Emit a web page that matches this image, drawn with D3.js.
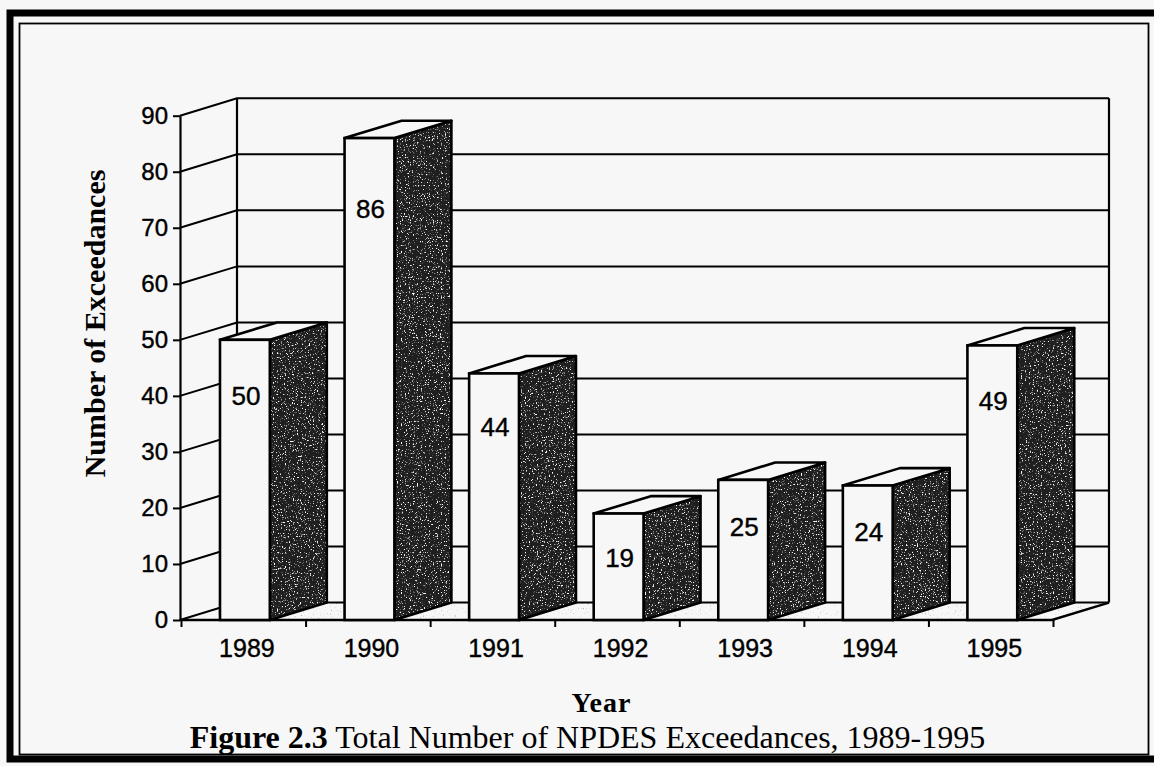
<!DOCTYPE html>
<html>
<head>
<meta charset="utf-8">
<script src="https://cdn.jsdelivr.net/npm/d3@7"></script>
<style>
  html, body { margin: 0; padding: 0; background: #f7f7f7; }
  svg { display: block; }
</style>
</head>
<body>
<script>
// data
const years = ['1989', '1990', '1991', '1992', '1993', '1994', '1995'];
const exceedances = [50, 86, 44, 19, 25, 24, 49];
const yTicks = [0, 10, 20, 30, 40, 50, 60, 70, 80, 90];
const yTitle = 'Number of Exceedances';
const xTitle = 'Year';
const captionBold = 'Figure 2.3';
const captionText = ' Total Number of NPDES Exceedances, 1989-1995';

const width = 1154, height = 766;
const bg = '#f7f7f7';
const sans = '"Liberation Sans", Arial, sans-serif';
const serif = '"Liberation Serif", "Times New Roman", serif';
// 3d depth offset of the walls and the bars
const dx = 57, dy = -17.4;

const svg = d3.select('body').append('svg')
    .attr('width', width)
    .attr('height', height)
    .attr('viewBox', [0, 0, width, height]);

const defs = svg.append('defs');

// halftone look of the shaded bar sides
const speck = defs.append('filter').attr('id', 'speck');
speck.append('feTurbulence')
    .attr('type', 'fractalNoise').attr('baseFrequency', 0.75)
    .attr('numOctaves', 2).attr('seed', 4).attr('result', 'n');
speck.append('feColorMatrix').attr('in', 'n').attr('type', 'matrix')
    .attr('values', '0 0 0 0 1  0 0 0 0 1  0 0 0 0 1  7 0 0 0 -4.2')
    .attr('result', 'w');
speck.append('feComposite').attr('in', 'w').attr('in2', 'SourceGraphic').attr('operator', 'in');

const floorSpeck = defs.append('filter').attr('id', 'floorSpeck');
floorSpeck.append('feTurbulence')
    .attr('type', 'fractalNoise').attr('baseFrequency', 0.6)
    .attr('numOctaves', 2).attr('seed', 9).attr('result', 'n');
floorSpeck.append('feColorMatrix').attr('in', 'n').attr('type', 'matrix')
    .attr('values', '0 0 0 0 0.45  0 0 0 0 0.45  0 0 0 0 0.45  6 0 0 0 -4.0')
    .attr('result', 'g');
floorSpeck.append('feComposite').attr('in', 'g').attr('in2', 'SourceGraphic').attr('operator', 'in');

svg.append('rect').attr('width', width).attr('height', height).attr('fill', bg);

// frame: thick outer border and thin inner line
svg.append('rect')
    .attr('x', 10).attr('y', 13).attr('width', 1160).attr('height', 746)
    .attr('fill', 'none').attr('stroke', '#000').attr('stroke-width', 7);
svg.append('rect')
    .attr('x', 19.5).attr('y', 23.5).attr('width', 1129).attr('height', 731)
    .attr('fill', 'none').attr('stroke', '#000').attr('stroke-width', 1.8);

// scales
const x = d3.scaleBand().domain(years).range([180, 1052]).padding(0);
const y = d3.scaleLinear().domain([0, 90]).range([620, 115.7]);
const bw = x.step();
const x0 = x.range()[0], x1 = x.range()[1];
const y0 = y(0);

const chart = svg.append('g');

// floor
const floorD = `M${x0},${y0}L${x1},${y0}L${x1 + dx},${y0 + dy}L${x0 + dx},${y0 + dy}Z`;
chart.append('path').attr('d', floorD).attr('fill', bg);
chart.append('path').attr('d', floorD).attr('fill', '#000').attr('filter', 'url(#floorSpeck)');

// gridlines on the side wall and back wall
chart.append('g').selectAll('path')
    .data(yTicks)
    .join('path')
    .attr('d', d => `M${x0},${y(d)}L${x0 + dx},${y(d) + dy}L${x1 + dx},${y(d) + dy}`)
    .attr('fill', 'none')
    .attr('stroke', '#000')
    .attr('stroke-width', 2);

// back wall edges
chart.append('path')
    .attr('d', `M${x0 + dx},${y(0) + dy}L${x0 + dx},${y(90) + dy}M${x1 + dx},${y(0) + dy}L${x1 + dx},${y(90) + dy}`)
    .attr('stroke', '#000').attr('stroke-width', 2.2);

// floor front and right edges
chart.append('path')
    .attr('d', `M${x0},${y0}L${x1},${y0}L${x1 + dx},${y0 + dy}`)
    .attr('fill', 'none').attr('stroke', '#000').attr('stroke-width', 2.4);

// category ticks under the floor
chart.append('g').selectAll('line')
    .data(years.map(d => x(d)).concat([x1]))
    .join('line')
    .attr('x1', d => d + 1.5).attr('x2', d => d + 1.5)
    .attr('y1', y0).attr('y2', y0 + 7)
    .attr('stroke', '#000').attr('stroke-width', 2);

// y axis
const yAxis = chart.append('g')
    .attr('transform', `translate(${x0},0)`)
    .call(d3.axisLeft(y).tickValues(yTicks).tickSize(7).tickSizeOuter(0).tickPadding(5));
yAxis.select('.domain').attr('stroke-width', 2.2);
yAxis.selectAll('.tick line').attr('stroke-width', 2);
yAxis.selectAll('.tick text')
    .attr('font-family', sans)
    .attr('font-size', 24)
    .attr('fill', '#000')
    .attr('stroke', '#000')
    .attr('stroke-width', 0.4);

// bars
const bars = exceedances.map((v, i) => ({
    year: years[i],
    value: v,
    xl: x(years[i]) + 0.321 * bw,
    xr: x(years[i]) + 0.321 * bw + 0.40 * bw,
    yt: y(v)
}));

const bar = chart.append('g').selectAll('g')
    .data(bars)
    .join('g');

const sidePath = d => `M${d.xr},${d.yt}L${d.xr + dx},${d.yt + dy}L${d.xr + dx},${y0 + dy}L${d.xr},${y0}Z`;

bar.append('path')
    .attr('d', sidePath)
    .attr('fill', '#1f1f1f');
bar.append('path')
    .attr('d', sidePath)
    .attr('fill', '#000')
    .attr('filter', 'url(#speck)');
bar.append('path')
    .attr('d', sidePath)
    .attr('fill', 'none')
    .attr('stroke', '#000')
    .attr('stroke-width', 2.6)
    .attr('stroke-linejoin', 'round');

bar.append('path')
    .attr('d', d => `M${d.xl},${d.yt}L${d.xl + dx},${d.yt + dy}L${d.xr + dx},${d.yt + dy}L${d.xr},${d.yt}Z`)
    .attr('fill', bg)
    .attr('stroke', '#000')
    .attr('stroke-width', 2.6)
    .attr('stroke-linejoin', 'round');

bar.append('rect')
    .attr('x', d => d.xl)
    .attr('y', d => d.yt)
    .attr('width', d => d.xr - d.xl)
    .attr('height', d => y0 - d.yt)
    .attr('fill', bg)
    .attr('stroke', '#000')
    .attr('stroke-width', 2.6);

// value labels inside the front faces
bar.append('text')
    .attr('x', d => (d.xl + d.xr) / 2 + 1)
    .attr('y', d => y(0.93 * d.value - 6.5))
    .attr('dy', '0.36em')
    .attr('text-anchor', 'middle')
    .attr('font-family', sans)
    .attr('font-size', 26)
    .attr('stroke', '#000')
    .attr('stroke-width', 0.4)
    .text(d => d.value);

// year labels
chart.append('g').selectAll('text')
    .data(bars)
    .join('text')
    .attr('x', d => (d.xl + d.xr) / 2 + 2)
    .attr('y', 657)
    .attr('text-anchor', 'middle')
    .attr('font-family', sans)
    .attr('font-size', 25)
    .attr('stroke', '#000')
    .attr('stroke-width', 0.4)
    .text(d => d.year);

// axis titles and caption
svg.append('text')
    .attr('transform', 'translate(105,323.5) rotate(-90)')
    .attr('text-anchor', 'middle')
    .attr('font-family', serif)
    .attr('font-weight', 'bold')
    .attr('font-size', 30)
    .text(yTitle);

svg.append('text')
    .attr('x', 601.5)
    .attr('y', 712)
    .attr('text-anchor', 'middle')
    .attr('font-family', serif)
    .attr('font-weight', 'bold')
    .attr('font-size', 28)
    .attr('letter-spacing', 1)
    .text(xTitle);

const cap = svg.append('text')
    .attr('x', 587.5)
    .attr('y', 748)
    .attr('text-anchor', 'middle')
    .attr('font-family', serif)
    .attr('font-size', 32);
cap.append('tspan').attr('font-weight', 'bold').text(captionBold);
cap.append('tspan').text(captionText);
</script>
</body>
</html>
